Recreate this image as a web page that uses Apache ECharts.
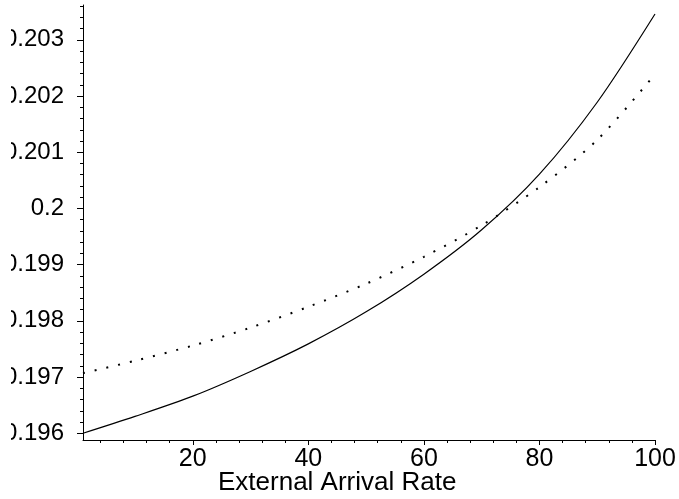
<!DOCTYPE html>
<html>
<head>
<meta charset="utf-8">
<script src="https://cdn.jsdelivr.net/npm/echarts@6/dist/echarts.min.js"></script>
<style>html,body{margin:0;padding:0;background:#fff;}#c{width:679px;height:499px;}</style>
</head>
<body>
<div id="c"></div>
<script>
const xSolid = [1, 10, 20, 30, 40, 50, 60, 70, 80, 90, 100];
const ySolid = [0.19600, 0.19630, 0.19666, 0.19710, 0.19759, 0.19816, 0.19883, 0.19962, 0.20061, 0.20189, 0.20346];
const xDotted = [1, 10, 20, 30, 40, 50, 60, 70, 80, 90, 100];
const yDotted = [0.19707, 0.19729, 0.19756, 0.19788, 0.19825, 0.19866, 0.19914, 0.19970, 0.20038, 0.20122, 0.20239];
const xTickLabels = [20, 40, 60, 80, 100];
const xMinorTicks = [4, 8, 12, 16, 24, 28, 32, 36, 44, 48, 52, 56, 64, 68, 72, 76, 84, 88, 92, 96];
const yTickLabels = [0.196, 0.197, 0.198, 0.199, 0.2, 0.201, 0.202, 0.203];
const yMinorTicks = [0.1960, 0.1962, 0.1964, 0.1966, 0.1968, 0.1970, 0.1972, 0.1974, 0.1976, 0.1978,
  0.1980, 0.1982, 0.1984, 0.1986, 0.1988, 0.1990, 0.1992, 0.1994, 0.1996, 0.1998,
  0.2000, 0.2002, 0.2004, 0.2006, 0.2008, 0.2010, 0.2012, 0.2014, 0.2016, 0.2018,
  0.2020, 0.2022, 0.2024, 0.2026, 0.2028, 0.2030, 0.2032, 0.2034, 0.2036];
const xTitle = 'External Arrival Rate';

const FONT = 'Liberation Sans, Arial, sans-serif';
const chart = echarts.init(document.getElementById('c'));
const axisLineStyle = { color: '#000', width: 1 };
chart.setOption({
  animation: false,
  backgroundColor: '#fff',
  title: {
    text: xTitle, left: 213, top: 465,
    textStyle: { fontFamily: FONT, fontSize: 26, fontWeight: 'normal', color: '#000' }
  },
  grid: { left: 83, right: 24, top: 5, bottom: 59 },
  xAxis: [{
    type: 'value', min: 1, max: 100,
    axisLine: { onZero: false, lineStyle: axisLineStyle },
    axisTick: { show: true, length: 5, customValues: xTickLabels, lineStyle: axisLineStyle },
    axisLabel: { customValues: xTickLabels, margin: 7, color: '#000', fontFamily: FONT, fontSize: 25 },
    splitLine: { show: false }
  }, {
    type: 'value', min: 1, max: 100, position: 'bottom',
    axisLine: { show: false, onZero: false },
    axisTick: { show: true, length: 3, customValues: xMinorTicks, lineStyle: axisLineStyle },
    axisLabel: { show: false },
    splitLine: { show: false }
  }],
  yAxis: [{
    type: 'value', min: 0.19588, max: 0.20362,
    axisLine: { show: true, onZero: false, lineStyle: axisLineStyle },
    axisTick: { show: true, length: 6, customValues: yTickLabels, lineStyle: axisLineStyle },
    axisLabel: {
      customValues: yTickLabels, margin: 19, color: '#000', fontFamily: FONT, fontSize: 24,
      formatter: v => String(+v.toFixed(3))
    },
    splitLine: { show: false }
  }, {
    type: 'value', min: 0.19588, max: 0.20362, position: 'left',
    axisLine: { show: false, onZero: false },
    axisTick: { show: true, length: 3, customValues: yMinorTicks, lineStyle: axisLineStyle },
    axisLabel: { show: false },
    splitLine: { show: false }
  }],
  series: [{
    type: 'line', xAxisIndex: 0, yAxisIndex: 0,
    data: xSolid.map((x, i) => [x, ySolid[i]]),
    smooth: 0.3, showSymbol: false,
    lineStyle: { color: '#000', width: 1.2 }
  }, {
    type: 'line', xAxisIndex: 0, yAxisIndex: 0,
    data: xDotted.map((x, i) => [x, yDotted[i]]),
    smooth: 0.3, showSymbol: false,
    lineStyle: { color: '#000', width: 2, type: [2, 10], cap: 'butt' }
  }],
  graphic: [{
    type: 'rect', left: 0, top: 0, z: 100,
    shape: { x: 0, y: 0, width: 11, height: 499 },
    style: { fill: '#fff' }
  }]
});
</script>
</body>
</html>
